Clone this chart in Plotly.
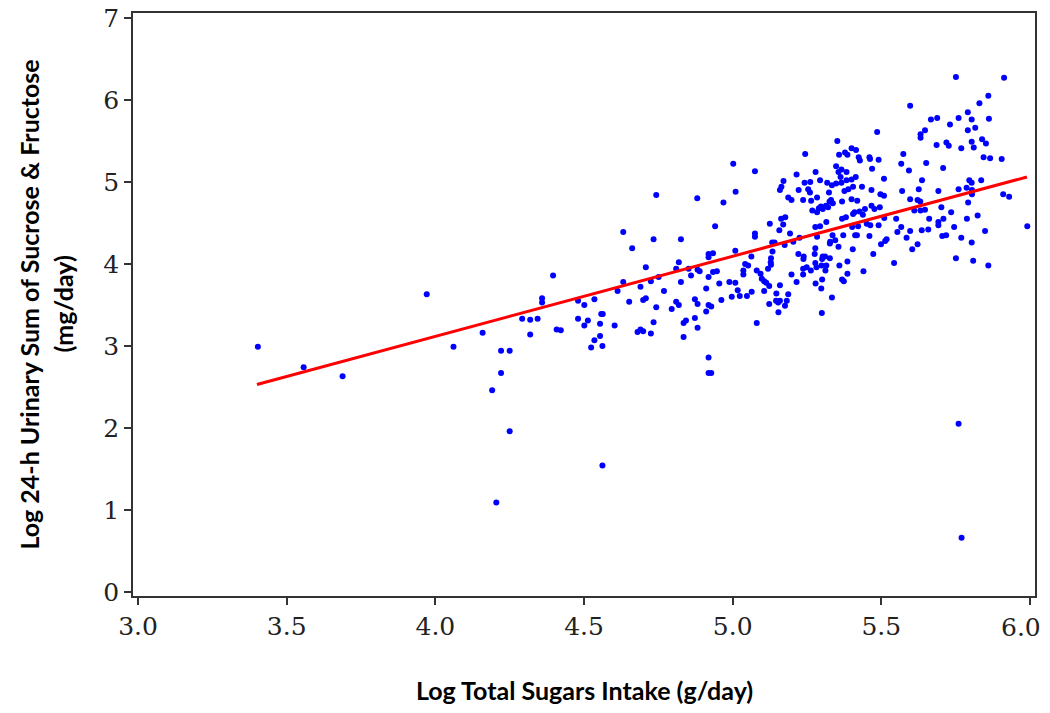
import plotly.graph_objects as go

# Log total sugars intake (g/day) -- x values of the scatter points
intake = [
    3.403, 3.557, 3.688, 3.971, 4.061, 4.159, 4.221, 4.250, 4.221, 4.191, 4.250, 4.205,
    4.292, 4.319, 4.344, 4.319, 4.359, 4.359, 4.396, 4.408, 4.422, 4.480, 4.480, 4.501,
    4.501, 4.513, 4.535, 4.535, 4.524, 4.554, 4.554, 4.558, 4.563, 4.562, 4.562, 4.603,
    4.613, 4.632, 4.632, 4.652, 4.662, 4.680, 4.690, 4.699, 4.690, 4.699, 4.708, 4.708,
    4.725, 4.725, 4.734, 4.734, 4.743, 4.751, 4.769, 4.795, 4.810, 4.819, 4.810, 4.819,
    4.826, 4.826, 4.835, 4.835, 4.843, 4.852, 4.860, 4.873, 4.873, 4.882, 4.882, 4.882,
    4.889, 4.911, 4.911, 4.919, 4.928, 4.919, 4.919, 4.919, 4.934, 4.919, 4.919, 4.928,
    4.934, 4.947, 4.941, 4.955, 4.962, 4.969, 4.989, 5.009, 4.997, 5.009, 5.017, 5.024,
    5.036, 5.036, 5.048, 4.743, 4.881, 5.010, 5.002,
    5.486, 5.352, 5.244, 5.358, 5.378, 5.386, 5.400, 5.415, 5.424, 5.428, 5.460, 5.462,
    5.491, 5.075, 5.215, 5.279, 5.348, 5.356, 5.366, 5.363, 5.383, 5.469, 5.171, 5.164,
    5.159, 5.242, 5.261, 5.294, 5.318, 5.334, 5.348, 5.366, 5.383, 5.400, 5.414, 5.435,
    5.467, 5.497, 5.509, 5.509, 5.222, 5.254, 5.260, 5.324, 5.376, 5.389, 5.405, 5.187,
    5.198, 5.237, 5.264, 5.284, 5.326, 5.331, 5.337, 5.368, 5.400, 5.419, 5.427, 5.410,
    5.405, 5.445, 5.467, 5.477, 5.495, 5.297, 5.303, 5.290, 5.314, 5.321, 5.268, 5.284,
    5.163, 5.177, 5.125, 5.170, 5.157, 5.315, 5.278, 5.294, 5.368, 5.381, 5.402, 5.422,
    5.438, 5.451, 5.463, 5.491, 5.510, 5.075, 5.075, 5.193, 5.225, 5.284, 5.336, 5.345,
    5.328, 5.372, 5.412, 5.418, 5.460, 5.518, 5.513, 5.499, 5.133, 5.141, 5.175, 5.204,
    5.327, 5.356, 5.404, 5.473, 5.063, 5.134, 5.129, 5.128, 5.129, 5.221, 5.239, 5.238,
    5.276, 5.278, 5.303, 5.311, 5.301, 5.327, 5.278, 5.299, 5.315, 5.359, 5.386, 5.440,
    5.042, 5.052, 5.081, 5.094, 5.098, 5.106, 5.113, 5.119, 5.123, 5.159, 5.198, 5.215,
    5.237, 5.237, 5.249, 5.263, 5.282, 5.312, 5.279, 5.301, 5.298, 5.334, 5.368, 5.374,
    5.386, 5.064, 5.106, 5.147, 5.159, 5.153, 5.146, 5.187, 5.182, 5.176, 5.123, 5.154,
    5.081, 5.300,
    5.751, 5.913, 5.860, 5.597, 5.830, 5.791, 5.804, 5.760, 5.862, 5.667, 5.688, 5.731,
    5.791, 5.816, 5.647, 5.632, 5.632, 5.839, 5.852, 5.804, 5.811, 5.719, 5.727, 5.686,
    5.769, 5.844, 5.866, 5.905, 5.574, 5.567, 5.651, 5.593, 5.708, 5.637, 5.796, 5.804,
    5.836, 5.626, 5.760, 5.787, 5.805, 5.570, 5.692, 5.805, 5.910, 5.930, 5.597, 5.622,
    5.631, 5.792, 5.611, 5.632, 5.647, 5.702, 5.735, 5.550, 5.661, 5.709, 5.692, 5.692,
    5.788, 5.824, 5.991, 5.567, 5.554, 5.597, 5.636, 5.658, 5.745, 5.849, 5.585, 5.705,
    5.718, 5.769, 5.804, 5.622, 5.604, 5.543, 5.751, 5.809, 5.860, 5.760, 5.770,
]

# Log 24-h urinary sum of sucrose & fructose (mg/day) -- y values of the scatter points
urinary = [
    2.99, 2.74, 2.63, 3.63, 2.99, 3.16, 2.94, 2.94, 2.67, 2.46, 1.96, 1.09,
    3.33, 3.32, 3.33, 3.14, 3.58, 3.53, 3.86, 3.20, 3.19, 3.55, 3.33, 3.50,
    3.25, 3.31, 3.57, 3.07, 2.98, 3.27, 3.12, 3.39, 3.39, 3.00, 1.54, 3.25,
    3.67, 4.39, 3.78, 3.54, 4.19, 3.17, 3.20, 3.18, 3.72, 3.56, 3.58, 3.96,
    3.15, 3.79, 4.30, 3.29, 3.47, 3.84, 3.67, 3.45, 3.54, 3.50, 3.94, 4.02,
    4.30, 3.78, 3.11, 3.28, 3.31, 3.94, 3.86, 3.57, 3.34, 3.51, 3.22, 3.93,
    3.91, 3.70, 3.42, 3.50, 3.48, 3.84, 4.12, 4.08, 4.13, 2.86, 2.67, 2.67,
    3.90, 3.91, 4.46, 3.76, 3.56, 4.75, 3.78, 3.77, 3.60, 4.16, 3.68, 3.61,
    3.92, 3.87, 3.61, 4.84, 4.80, 4.88, 5.22,
    5.61, 5.50, 5.34, 5.33, 5.36, 5.33, 5.41, 5.39, 5.30, 5.26, 5.30, 5.28,
    5.27, 5.13, 5.09, 5.12, 5.19, 5.12, 5.15, 5.06, 5.12, 5.16, 5.01, 4.94,
    4.90, 4.99, 5.00, 5.02, 4.99, 4.96, 4.98, 4.99, 5.02, 5.03, 5.06, 4.94,
    4.90, 4.85, 4.83, 5.04, 4.90, 4.91, 4.87, 4.87, 4.89, 4.91, 4.94, 4.81,
    4.78, 4.78, 4.77, 4.81, 4.76, 4.78, 4.74, 4.76, 4.79, 4.77, 4.64, 4.63,
    4.61, 4.67, 4.71, 4.67, 4.69, 4.70, 4.67, 4.68, 4.71, 4.69, 4.65, 4.63,
    4.55, 4.57, 4.49, 4.48, 4.41, 4.51, 4.45, 4.46, 4.55, 4.57, 4.45, 4.46,
    4.60, 4.49, 4.47, 4.47, 4.56, 4.37, 4.33, 4.37, 4.32, 4.33, 4.35, 4.29,
    4.27, 4.35, 4.35, 4.35, 4.34, 4.30, 4.28, 4.24, 4.26, 4.26, 4.23, 4.27,
    4.25, 4.21, 4.18, 4.12, 4.09, 4.15, 4.07, 4.02, 3.99, 4.12, 4.09, 4.06,
    4.12, 4.19, 4.09, 4.09, 4.06, 4.07, 4.01, 3.98, 3.98, 3.98, 4.03, 3.91,
    4.00, 3.98, 3.92, 3.88, 3.82, 3.79, 3.77, 3.94, 3.73, 3.74, 3.87, 3.78,
    3.94, 3.87, 3.96, 3.92, 3.96, 3.92, 3.76, 3.81, 3.70, 3.59, 3.81, 3.79,
    3.88, 3.66, 3.67, 3.64, 3.55, 3.53, 3.55, 3.63, 3.55, 3.49, 3.51, 3.41,
    3.28, 3.40,
    6.28, 6.27, 6.05, 5.93, 5.96, 5.85, 5.76, 5.78, 5.77, 5.76, 5.78, 5.70,
    5.63, 5.66, 5.63, 5.58, 5.54, 5.52, 5.47, 5.49, 5.42, 5.48, 5.44, 5.45,
    5.41, 5.30, 5.29, 5.28, 5.34, 5.22, 5.23, 5.14, 5.17, 5.02, 5.02, 4.99,
    5.02, 4.91, 4.91, 4.93, 4.90, 4.89, 4.89, 4.85, 4.85, 4.82, 4.79, 4.78,
    4.76, 4.75, 4.65, 4.65, 4.66, 4.69, 4.63, 4.55, 4.55, 4.55, 4.51, 4.47,
    4.55, 4.59, 4.46, 4.45, 4.39, 4.40, 4.41, 4.42, 4.45, 4.40, 4.32, 4.34,
    4.35, 4.32, 4.26, 4.24, 4.18, 4.01, 4.07, 4.04, 3.98, 2.05, 0.66,
]

# Fitted regression line, endpoints
fit_x = [3.40, 5.99]
fit_y = [2.53, 5.06]

# Axis ticks (the last x label is drawn as an annotation, nudged left like the original)
x_ticks = [3.0, 3.5, 4.0, 4.5, 5.0, 5.5, 6.0]
x_labels = ["3.0", "3.5", "4.0", "4.5", "5.0", "5.5", "6.0"]
y_ticks = [0, 1, 2, 3, 4, 5, 6, 7]
y_labels = ["0", "1", "2", "3", "4", "5", "6", "7"]

x_title = "Log Total Sugars Intake (g/day)"
y_title_1 = "Log 24-h Urinary Sum of Sucrose & Fructose"
y_title_2 = "(mg/day)"

fig = go.Figure()
fig.add_trace(go.Scatter(
    x=intake, y=urinary, mode="markers",
    marker=dict(color="#0000FF", size=6, line=dict(width=0)),
    hoverinfo="x+y",
))
fig.add_trace(go.Scatter(
    x=fit_x, y=fit_y, mode="lines",
    line=dict(color="#FF0000", width=3),
))

tick_font = dict(family="DejaVu Serif", size=25, color="#222222")
title_font = dict(family="Lato", size=25, color="#000000")

axis_common = dict(
    showline=True, linecolor="#333333", linewidth=1.5, mirror=True,
    ticks="outside", ticklen=7, tickwidth=1.5, tickcolor="#333333",
    showgrid=False, zeroline=False, tickfont=tick_font, automargin=False,
    ticklabeloverflow="allow",
)

shown_x_labels = x_labels[:-1] + [""]

fig.update_layout(
    width=1042, height=705,
    margin=dict(l=125, r=15, t=5, b=117),
    paper_bgcolor="white", plot_bgcolor="white",
    showlegend=False,
    xaxis=dict(range=[2.983, 6.017], tickvals=x_ticks, ticktext=shown_x_labels, **axis_common),
    yaxis=dict(range=[-0.05, 7.06], tickvals=y_ticks, ticktext=y_labels, **axis_common),
    annotations=[
        dict(text=x_labels[-1], xref="x", yref="paper", x=x_ticks[-1], xshift=-9,
             y=-0.0532, xanchor="center", yanchor="middle", showarrow=False, font=tick_font),
        dict(text="<b>" + x_title + "</b>", xref="paper", yref="paper",
             x=0.5, y=-0.161, xanchor="center", yanchor="middle",
             showarrow=False, font=title_font),
        dict(text="<b>" + y_title_1.replace("&", "&amp;") + "</b>", xref="paper", yref="paper",
             x=-0.1164, y=0.5, xanchor="center", yanchor="middle", textangle=-90,
             showarrow=False, font=title_font),
        dict(text="<b>" + y_title_2 + "</b>", xref="paper", yref="paper",
             x=-0.0787, y=0.5, xanchor="center", yanchor="middle", textangle=-90,
             showarrow=False, font=title_font),
    ],
)

fig.write_html("out.html")
